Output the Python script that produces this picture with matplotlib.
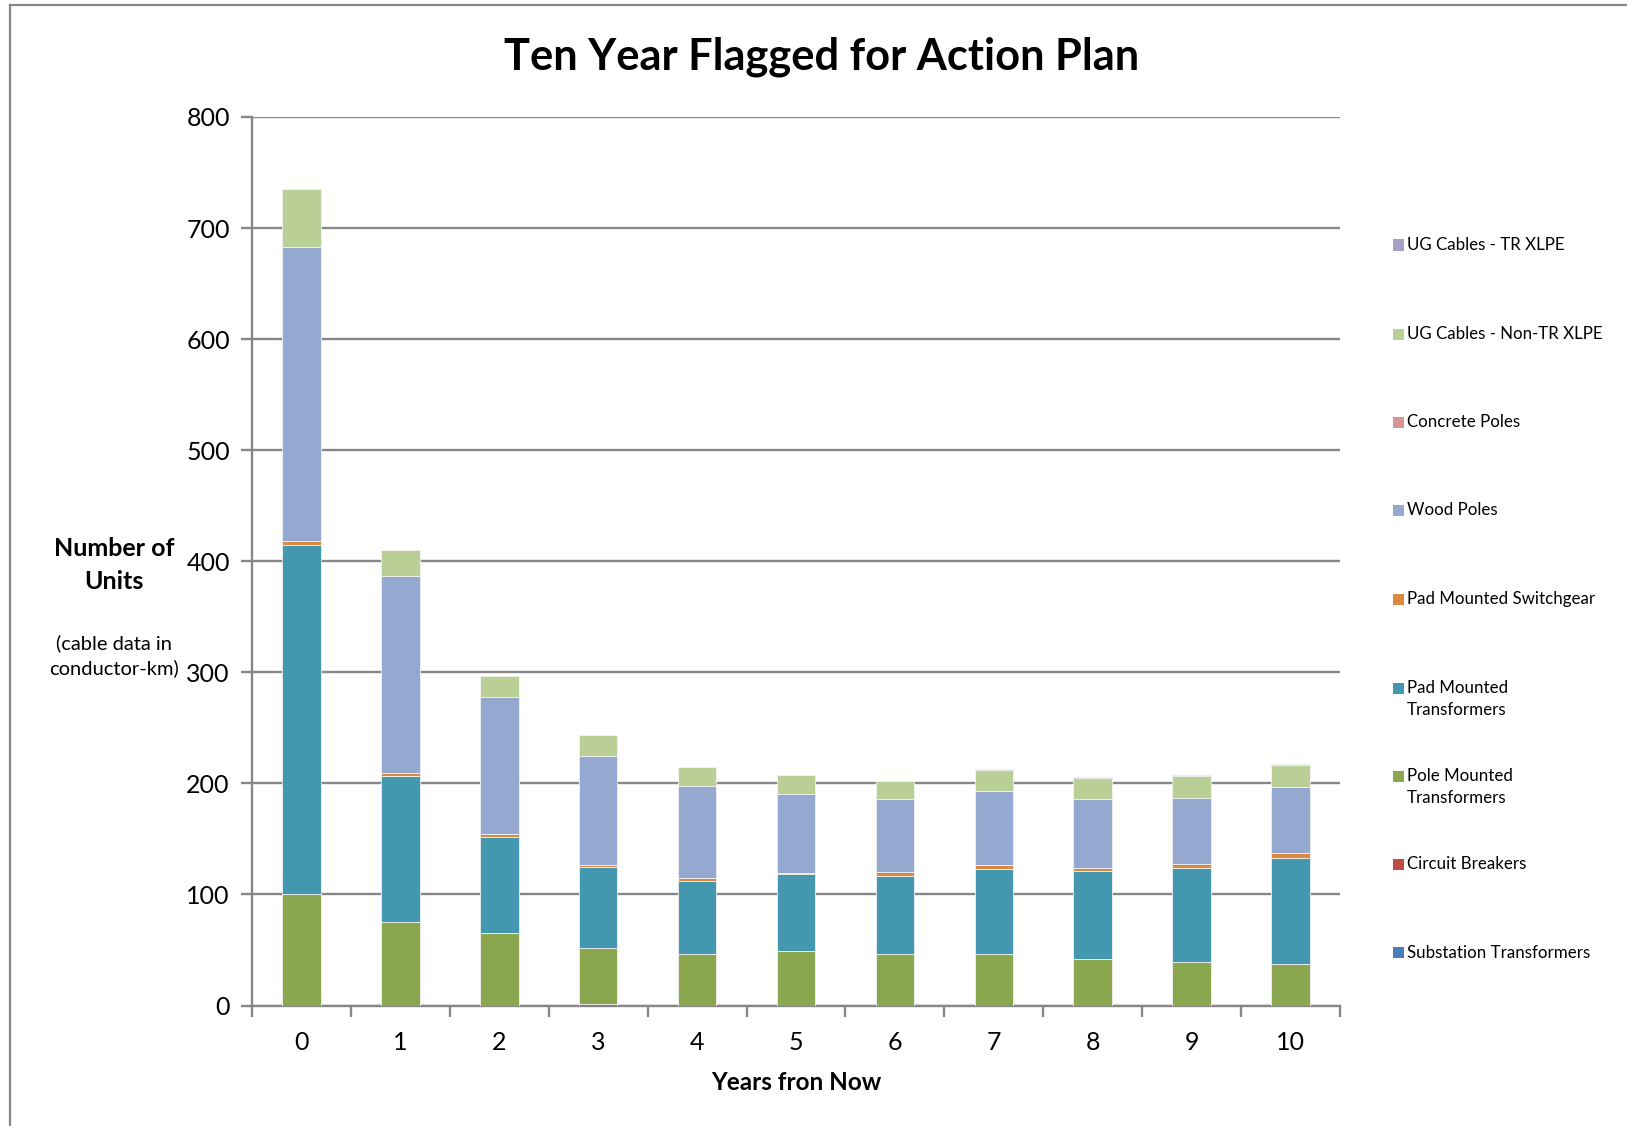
import matplotlib
matplotlib.use("Agg")
import matplotlib.pyplot as plt
from matplotlib.lines import Line2D
from matplotlib.patches import Rectangle
import numpy as np

plt.rcParams['font.family'] = ['Lato', 'DejaVu Sans']

# Years from now
years = list(range(11))

# Flagged units per asset class (stacked bottom to top)
substation_transformers = [0, 0, 0, 1, 0, 0, 0, 0, 0, 0, 0]
circuit_breakers        = [0, 0, 0, 0, 0, 0, 0, 0, 0, 0, 0]
pole_mounted_tx         = [100, 75, 65, 51, 46, 49.5, 46, 46.5, 41.5, 39.5, 37]
pad_mounted_tx          = [315, 132, 87, 72.5, 66.5, 68.5, 70.5, 76, 79.5, 84, 95.5]
pad_mounted_switchgear  = [3, 2, 2, 2, 2, 1.5, 3.5, 4, 2.5, 4, 4.5]
wood_poles              = [265, 178, 124, 98.5, 83.5, 71, 66, 67, 62.5, 59.5, 60]
concrete_poles          = [0, 0, 0, 0, 0, 0, 0, 0, 0, 0, 0]
ug_non_tr_xlpe          = [52, 23, 19, 19, 16.5, 17, 16.5, 18.5, 18.5, 19.5, 19.5]
ug_tr_xlpe              = [0, 0, 0, 0, 0, 0, 0, 1, 1, 1, 1]

series_names = ["Substation Transformers", "Circuit Breakers",
                "Pole Mounted\nTransformers", "Pad Mounted\nTransformers",
                "Pad Mounted Switchgear", "Wood Poles", "Concrete Poles",
                "UG Cables - Non-TR XLPE", "UG Cables - TR XLPE"]
series_values = [substation_transformers, circuit_breakers, pole_mounted_tx,
                 pad_mounted_tx, pad_mounted_switchgear, wood_poles,
                 concrete_poles, ug_non_tr_xlpe, ug_tr_xlpe]
series_colors = ["#4A7EBB", "#BE4B48", "#8AA64E", "#4398B0", "#DB8840",
                 "#95A9D0", "#D99694", "#BACF95", "#A89EC6"]

W, H = 1627, 1126
fig = plt.figure(figsize=(W / 100, H / 100), dpi=100)
ax = fig.add_axes([252 / W, 1 - 1005.5 / H, (1340 - 252) / W, (1005.5 - 117) / H])

grey = "#878787"
x = np.arange(len(years))
bottom = np.zeros(len(years))
for vals, col in zip(series_values, series_colors):
    v = np.array(vals, dtype=float)
    ax.bar(x, v, width=0.39, bottom=bottom, color=col,
           edgecolor="#F2F2F2", linewidth=0.6, zorder=3)
    bottom += v

ax.set_xlim(-0.5, len(years) - 0.5)
ax.set_ylim(0, 800)
ax.set_yticks(range(0, 801, 100))
ax.yaxis.grid(True, color=grey, linewidth=1.7, zorder=0)
ax.set_axisbelow(True)

for s in ["top", "right"]:
    ax.spines[s].set_visible(False)
for s in ["left", "bottom"]:
    ax.spines[s].set_color(grey)
    ax.spines[s].set_linewidth(1.7)

ax.set_xticks(x)
ax.set_xticklabels([str(y) for y in years])
ax.set_xticks(np.arange(-0.5, len(years)), minor=True)
ax.tick_params(axis="x", which="major", length=0, pad=18, labelsize=18)
ax.tick_params(axis="x", which="minor", length=8, width=1.7, color=grey,
               direction="out")
ax.tick_params(axis="y", length=8, width=1.7, color=grey, direction="out",
               pad=8, labelsize=18)

fig.text(822 / W, 1 - 57 / H, "Ten Year Flagged for Action Plan",
         ha="center", va="center", fontsize=31.2, fontweight="bold")
fig.text(796 / W, 1 - 1082 / H, "Years fron Now", ha="center", va="center",
         fontsize=17.5, fontweight="bold")
fig.text(114 / W, 1 - 565 / H, "Number of\nUnits", ha="center", va="center",
         fontsize=18, fontweight="bold", linespacing=1.5)
fig.text(114 / W, 1 - 656 / H, "(cable data in\nconductor-km)", ha="center",
         va="center", fontsize=14.5, linespacing=1.45)

# Legend column: top entry is the last stacked series
legend_y = [245, 334, 422, 510.5, 599, 688, 776, 864, 952.5]
for yy, name, col in zip(legend_y, series_names[::-1], series_colors[::-1]):
    fig.patches.append(Rectangle((1393 / W, 1 - (yy + 5.5) / H), 11 / W, 11 / H,
                                 transform=fig.transFigure, facecolor=col,
                                 edgecolor="none"))
    for k, line in enumerate(name.split("\n")):
        fig.text(1407 / W, 1 - (yy + 22 * k) / H, line, ha="left",
                 va="center", fontsize=12.2)

# Outer frame lines
fig.add_artist(Line2D([10 / W, 10 / W], [0, 1 - 5 / H], color=grey,
                      linewidth=1.6, transform=fig.transFigure))
fig.add_artist(Line2D([10 / W, 1], [1 - 5 / H, 1 - 5 / H], color=grey,
                      linewidth=1.6, transform=fig.transFigure))

fig.savefig("out.png", dpi=100, facecolor="white")
